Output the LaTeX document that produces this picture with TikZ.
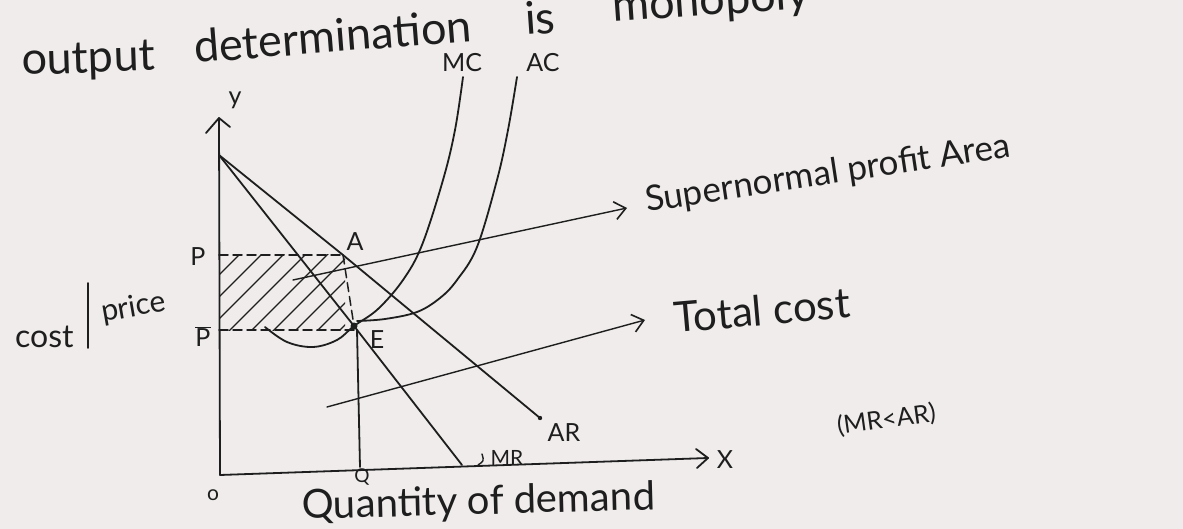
\documentclass[tikz,border=0pt]{standalone}
\usepackage{fontspec}
\setmainfont{Lato}
\usetikzlibrary{arrows.meta}
\definecolor{paper}{RGB}{239,236,235}
\definecolor{inkc}{RGB}{30,30,30}
\begin{document}
\begin{tikzpicture}[x=1pt,y=-1pt,line cap=round,line join=round,
  ink/.style={draw=inkc,line width=1.8pt},
  thinink/.style={draw=inkc,line width=1.4pt},
  dashln/.style={draw=inkc,line width=1.5pt,dash pattern=on 9pt off 5pt},
  barb/.style={-{Straight Barb[length=11pt,width=18pt,line width=1.6pt]}},
  lbl/.style={inner sep=0pt,text=inkc,font=\fontsize{25}{28}\selectfont},
  small/.style={inner sep=0pt,text=inkc,font=\fontsize{21}{24}\selectfont},
  title/.style={inner sep=0pt,text=inkc,anchor=base west,font=\fontsize{45}{50}\selectfont},
  note/.style={inner sep=0pt,text=inkc,anchor=base west,font=\fontsize{35}{38}\selectfont}]
\fill[paper] (0,0) rectangle (1183,529);
\useasboundingbox (0,0) rectangle (1183,529);

% key points
\coordinate (O) at (220,475);
\coordinate (Ytop) at (219,118);
\coordinate (Xend) at (708,458);
\coordinate (T) at (219,155);
\coordinate (A) at (343,255);
\coordinate (E) at (354,326);
\coordinate (Pp) at (219,255);
\coordinate (Pb) at (219,330);
\coordinate (Eb) at (354,330);
\coordinate (ARend) at (540,418);
\coordinate (MRend) at (462,465);
\coordinate (Qtop) at (357,330);
\coordinate (Qb) at (360,467);
\coordinate (SupS) at (293,280);
\coordinate (SupT) at (627,208);
\coordinate (TcS) at (327,407);
\coordinate (TcT) at (645,320);

% title
\node[title,rotate=2] (w1) at (22,75) {output};
\node[title,rotate=4.5] (w2) at (195,63) {determination};
\node[title,rotate=4] (w3) at (526,35) {is};
\node[title,rotate=4] (w4) at (613,22) {monopoly};

% hatching
\begin{scope}
\clip (219,255) rectangle (345,330);
\foreach \k in {0,...,8}{
  \draw[thinink] ({494+22*\k-345},345) -- ({494+22*\k-240},240);
}
\end{scope}

% axes
\draw[ink] (Ytop) -- (O) -- (Xend);
\draw[ink] (206,133) -- (Ytop) -- (230,127);
\draw[ink] (696,449) -- (Xend) -- (697,468);

% dashed guides
\draw[dashln] (Pp) -- (A);
\draw[dashln] (Pb) -- (Eb);
\draw[dashln] (A) -- (E);

% AR and MR
\draw[ink] (T) -- (A) -- (ARend);
\fill[inkc] (ARend) circle (2.2);
\draw[ink] (T) -- (E) -- (MRend);
\draw[ink] (Qtop) -- (Qb);
\fill[inkc] (E) circle (3.5);

% MC and AC
\draw[ink] plot[smooth,tension=0.6] coordinates {(265,327) (287,342) (313,347) (337,340) (354,326) (378,309) (403,280) (422,245) (443,180) (455,130) (463,77)};
\draw[ink] plot[smooth,tension=0.6] coordinates {(357,321) (385,319) (417,312) (440,298) (457,280) (477,247) (497,180) (508,130) (517,77)};

% pointer arrows
\draw[thinink,barb] (SupS) -- (SupT);
\draw[thinink,barb] (TcS) -- (TcT);
\node[note,rotate=8.6] (sup) at (647,212) {Supernormal profit Area};
\node[note,rotate=5,font=\fontsize{42}{44}\selectfont] (tc) at (675,333) {Total cost};

% labels
\node[lbl] (mc) at (462,63) {MC};
\node[lbl] (ac) at (543,63) {AC};
\node[lbl] (ylab) at (235,100) {y};
\node[lbl] (plab) at (198,257) {P};
\node[lbl] (pblab) at (203,337) {$\overline{\mbox{P}}$};
\node[lbl] (alab) at (355,242) {A};
\node[lbl] (elab) at (377,340) {E};
\node[lbl] (arlab) at (564,433) {AR};
\node[small] (mrlab) at (507,458) {MR};
\draw[thinink] (478,465) .. controls (484,461) .. (482,454);
\node[lbl] (xlab) at (725,460) {X};
\node[small] (olab) at (213,495) {o};
\node[small,font=\fontsize{19}{22}\selectfont] (qlab) at (362,477) {Q};
\node[note,rotate=1.5,font=\fontsize{40}{42}\selectfont] (qd) at (302,519) {Quantity of demand};
\node[note,font=\fontsize{32}{34}\selectfont] (cst) at (15,347) {cost};
\draw[ink] (88,283) -- (88,348);
\node[note,rotate=10,font=\fontsize{30}{32}\selectfont] (prc) at (103,322) {price};
\node[lbl,rotate=8,anchor=west] (mrar) at (837,427) {(MR<AR)};
\end{tikzpicture}
\end{document}
